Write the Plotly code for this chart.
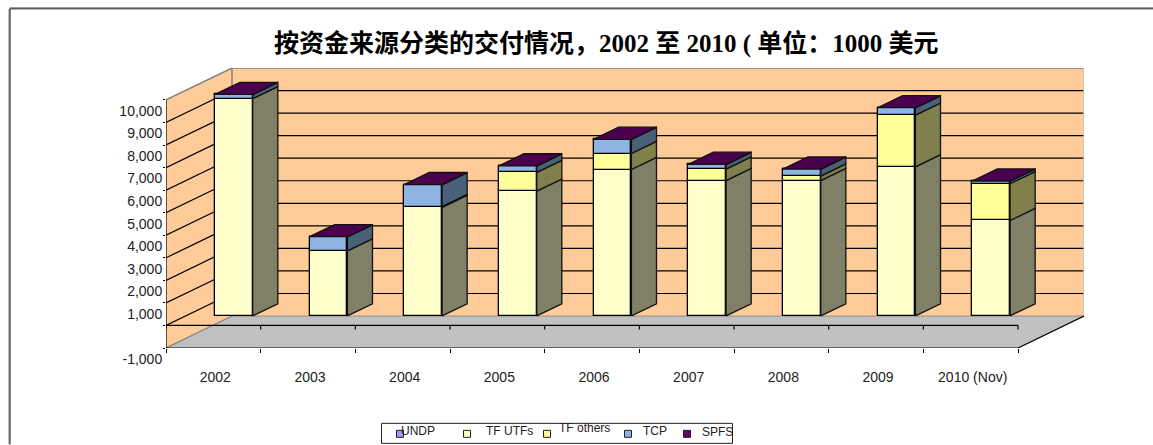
import plotly.graph_objects as go

W, H = 1153, 445
categories = ["2002", "2003", "2004", "2005", "2006", "2007", "2008", "2009", "2010 (Nov)"]
undp = [0, 0, 0, 0, 0, 0, 0, 0, 0]
tf_utfs = [9630, 2880, 4810, 5530, 6490, 6000, 6000, 6610, 4230]
tf_others = [0, 0, 40, 830, 710, 510, 200, 2290, 1630]
tcp = [180, 620, 960, 280, 620, 200, 300, 320, 110]
spfs = [10, 10, 10, 10, 10, 10, 10, 10, 10]
y_ticks = [-1000, 0, 1000, 2000, 3000, 4000, 5000, 6000, 7000, 8000, 9000, 10000]
y_labels = ["-1,000", "", "1,000", "2,000", "3,000", "4,000", "5,000", "6,000", "7,000", "8,000", "9,000", "10,000"]
legend_names = ["UNDP", "TF UTFs", "TF others", "TCP", "SPFS"]
title = "按资金来源分类的交付情况，2002 至 2010 ( 单位：1000 美元"

FRONT = ["#9999FF", "#FFFFCC", "#FFFF99", "#8EB4E3", "#660066"]
SIDE = ["#4D4D80", "#808066", "#80804D", "#4A6078", "#330033"]
TOP = "#4B004F"
WALL = "#FFCC99"
FLOOR = "#C0C0C0"
GREY = "#808080"

# plot frame in pixels
L, R, T, B = 166.0, 1084.0, 68.0, 348.5
n = len(categories)
STEP_PX = 94.67
PX_PER_UNIT = 248.5 / 11000
DX = (R - 1018.0) / STEP_PX          # full depth in category units
DY = 32.0 / PX_PER_UNIT              # full depth in value units
D1, D2 = 0.31, 0.69                  # bar front and back depth fractions
BW = 0.40                            # bar width in category units
x_max = (R - L) / STEP_PX
y_min = -1000
y_max = y_min + (B - T) / PX_PER_UNIT
LW = 1.3


def px(xp):
    return (xp - L) / (R - L)


def py(yp):
    return (B - yp) / (B - T)


series = [undp, tf_utfs, tf_others, tcp, spfs]
fig = go.Figure()

# stacked boxes: front faces as bars, side faces as polygons
cum = [0.0] * n
side_traces = []
for k, vals in enumerate(series):
    bx, by, bb = [], [], []
    sx, sy = [], []
    for i, v in enumerate(vals):
        xc = i + 0.5 + DX * D1
        bx.append(xc)
        by.append(v)
        bb.append(cum[i] + DY * 0.30)
        if v > 0:
            x0 = xc + BW / 2
            ddx = DX * (D2 - D1)
            ddy = DY * (D2 - D1)
            lo = cum[i] + DY * 0.30
            hi = lo + v
            sx += [x0, x0 + ddx, x0 + ddx, x0, x0, None]
            sy += [lo, lo + ddy, hi + ddy, hi, lo, None]
        cum[i] += v
    fig.add_trace(go.Bar(x=bx, y=by, base=bb, width=BW, name=legend_names[k],
                         marker=dict(color=FRONT[k], line=dict(color="#000000", width=LW))))
    side_traces.append(go.Scatter(x=sx, y=sy, mode="lines", fill="toself", fillcolor=SIDE[k],
                                  line=dict(color="#111111", width=LW), hoverinfo="skip"))
for tr in side_traces:
    fig.add_trace(tr)

# top faces
tx, ty = [], []
for i in range(n):
    xc = i + 0.5 + DX * D1
    a = xc - BW / 2
    b = xc + BW / 2
    h = cum[i] + DY * 0.30
    ddx = DX * (D2 - D1)
    ddy = DY * (D2 - D1)
    tx += [a, b, b + ddx, a + ddx, a, None]
    ty += [h, h, h + ddy, h + ddy, h, None]
fig.add_trace(go.Scatter(x=tx, y=ty, mode="lines", fill="toself", fillcolor=TOP,
                         line=dict(color="#111111", width=LW), hoverinfo="skip"))

shapes = []


def poly(xs, ys, fill):
    p = "M" + "L".join(f"{a},{b}" for a, b in zip(xs, ys)) + "Z"
    shapes.append(dict(type="path", path=p, xref="x", yref="y", fillcolor=fill, layer="below",
                       line=dict(color=fill, width=0)))


def seg(x0, y0, x1, y1, color="#000000", width=1.2):
    shapes.append(dict(type="line", x0=x0, y0=y0, x1=x1, y1=y1, xref="x", yref="y", layer="below",
                       line=dict(color=color, width=width)))


# walls and floor
poly([0, DX, DX, 0], [y_min, y_min + DY, 10000 + DY, 10000], WALL)
poly([DX, x_max, x_max, DX], [y_min + DY, y_min + DY, 10000 + DY, 10000 + DY], WALL)
poly([0, DX, x_max, x_max - DX], [y_min, y_min + DY, y_min + DY, y_min], FLOOR)

# gridlines
for v in y_ticks[1:-1]:
    seg(0, v, DX, v + DY)
    seg(DX, v + DY, x_max, v + DY)

# wall outline
seg(0, 10000, DX, 10000 + DY, GREY, 1.5)
seg(DX, 10000 + DY, x_max, 10000 + DY, GREY, 1.5)
seg(DX, 10000 + DY, DX, y_min + DY, GREY, 1.5)
seg(0, y_min, DX, y_min + DY, GREY, 1.2)
seg(x_max, y_min + DY, x_max, 10000 + DY, "#C0C0C0", 1.5)
seg(DX, y_min + DY, x_max, y_min + DY, GREY, 0.8)

# floor and axes lines
seg(0, y_min, 0, 10000)
seg(0, y_min, n, y_min)
seg(0, 0, n, 0)
seg(n, y_min, x_max, y_min + DY)
for i in range(n + 1):
    seg(i, 0, i, -4 / PX_PER_UNIT)

layout_shapes = shapes

# outer frame
for (x0, y0, x1, y1, c) in [(9.5, 9, W, 9, GREY), (9.5, 8, W, 8, "#111111"),
                            (9, 9, 9, H, GREY), (10, 9, 10, H, "#111111")]:
    layout_shapes.append(dict(type="line", xref="paper", yref="paper", x0=px(x0), y0=py(y0), x1=px(x1), y1=py(y1),
                              line=dict(color=c, width=1), layer="below"))

# legend box
LEG_L, LEG_R, LEG_T, LEG_B = 381.5, 732.5, 424, 444
layout_shapes.append(dict(type="rect", xref="paper", yref="paper", x0=px(LEG_L), x1=px(LEG_R), y0=py(LEG_B), y1=py(LEG_T),
                          fillcolor="#FFFFFF", line=dict(color="#222222", width=1), layer="below"))
swatch_x = [400, 467, 547, 628, 687]
label_x = [418, 509, 584, 655, 717]
label_y = [431.7, 432, 429, 431.7, 432.7]
annotations = []
for k, name in enumerate(legend_names):
    layout_shapes.append(dict(type="rect", xref="paper", yref="paper",
                              x0=px(swatch_x[k] - 3.5), x1=px(swatch_x[k] + 3.5), y0=py(438), y1=py(431),
                              fillcolor=FRONT[k], line=dict(color="#222222", width=1)))
    annotations.append(dict(text=name, x=px(label_x[k]), y=py(label_y[k]), xref="paper", yref="paper",
                            showarrow=False, xanchor="center", yanchor="middle",
                            font=dict(family="Liberation Sans", size=12, color="#222222")))

annotations.append(dict(text="<b>" + title + "</b>", x=px(606), y=py(43), xref="paper", yref="paper",
                        showarrow=False, xanchor="center", yanchor="middle",
                        font=dict(family="Liberation Serif, Noto Sans CJK SC", size=25, color="#000000")))

fig.update_layout(
    width=W, height=H, autosize=False,
    margin=dict(l=L, r=W - R, t=T, b=H - B, pad=0),
    paper_bgcolor="#FFFFFF", plot_bgcolor="rgba(0,0,0,0)",
    barmode="overlay", bargap=0, showlegend=False,
    shapes=layout_shapes, annotations=annotations,
    font=dict(family="Liberation Sans", size=14, color="#222222"),
    xaxis=dict(range=[0, x_max], showgrid=False, zeroline=False, showline=False,
               tickmode="array", tickvals=[i + 0.5 for i in range(n)], ticktext=categories,
               ticks="", ticklabelstandoff=19, ticklabelshift=2,
               minor=dict(tickmode="array", tickvals=list(range(n + 1)), ticks="outside", ticklen=4,
                          tickcolor="#000000", tickwidth=1)),
    yaxis=dict(range=[y_min, y_max], showgrid=False, zeroline=False, showline=False,
               tickmode="array", tickvals=y_ticks, ticktext=y_labels,
               ticks="outside", ticklen=2, tickcolor="#000000", tickwidth=1,
               ticklabelshift=11, ticklabelstandoff=-2),
)

fig.write_html("out.html", config=dict(displayModeBar=False),
               post_script="document.body.style.margin='0';document.body.style.overflow='hidden';")
